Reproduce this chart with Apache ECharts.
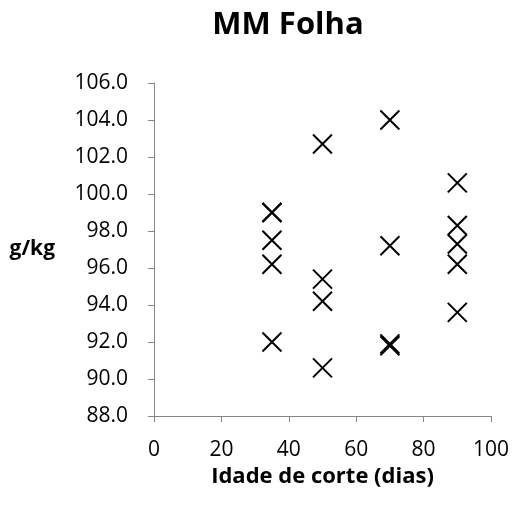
<!DOCTYPE html>
<html>
<head>
<meta charset="utf-8">
<script src="https://cdn.jsdelivr.net/npm/echarts@6/dist/echarts.min.js"></script>
<style>html,body{margin:0;padding:0;background:#fff;}#c{width:514px;height:506px;}</style>
</head>
<body>
<div id="c"></div>
<script>
var titleText = "MM Folha";
var xAxisName = "Idade de corte (dias)";
var yAxisName = "g/kg";
var ages = [35, 50, 70, 90];
var values35 = [99.0, 99.0, 97.5, 96.2, 92.0];
var values50 = [102.7, 95.4, 94.2, 90.6];
var values70 = [104.0, 97.2, 91.9, 91.8];
var values90 = [100.6, 98.3, 97.3, 96.2, 93.6];
var valueGroups = [values35, values50, values70, values90];

var points = [];
ages.forEach(function (a, i) {
  valueGroups[i].forEach(function (v) { points.push([a, v]); });
});

var font = "'Open Sans', 'Liberation Sans', sans-serif";
var chart = echarts.init(document.getElementById('c'), null, {renderer: 'canvas'});
chart.setOption({
  animation: false,
  backgroundColor: '#ffffff',
  title: {
    text: titleText,
    left: 283, top: 5, textAlign: 'center',
    textStyle: {fontFamily: font, fontWeight: 'bold', fontSize: 31, color: '#000'}
  },
  grid: {left: 154, right: 23, top: 83, bottom: 90, containLabel: false},
  xAxis: {
    type: 'value', min: 0, max: 100, interval: 20,
    name: xAxisName, nameLocation: 'middle', nameGap: 34,
    nameTextStyle: {fontFamily: font, fontWeight: 'bold', fontSize: 22, color: '#000'},
    axisLine: {show: true, lineStyle: {color: '#868686', width: 1}},
    axisTick: {show: true, inside: false, length: 6, lineStyle: {color: '#868686'}},
    axisLabel: {fontFamily: font, fontSize: 21, color: '#000', margin: 24},
    splitLine: {show: false}
  },
  yAxis: {
    type: 'value', min: 88, max: 106, interval: 2,
    name: yAxisName, nameLocation: 'middle', nameRotate: 0, nameGap: 99,
    nameTextStyle: {fontFamily: font, fontWeight: 'bold', fontSize: 21, color: '#000', padding: [8, 0, 0, 0]},
    axisLine: {show: true, lineStyle: {color: '#868686', width: 1}},
    axisTick: {show: true, inside: false, length: 6, lineStyle: {color: '#868686'}},
    axisLabel: {fontFamily: font, fontSize: 21, color: '#000', margin: 26,
      formatter: function (v) { return v.toFixed(1); }},
    splitLine: {show: false}
  },
  series: [{
    type: 'scatter',
    data: points,
    symbol: 'path://M0,0L10,10M10,0L0,10',
    symbolSize: 19,
    itemStyle: {color: 'rgba(0,0,0,0)', borderColor: '#000', borderWidth: 2, opacity: 1}
  }]
});
</script>
</body>
</html>
